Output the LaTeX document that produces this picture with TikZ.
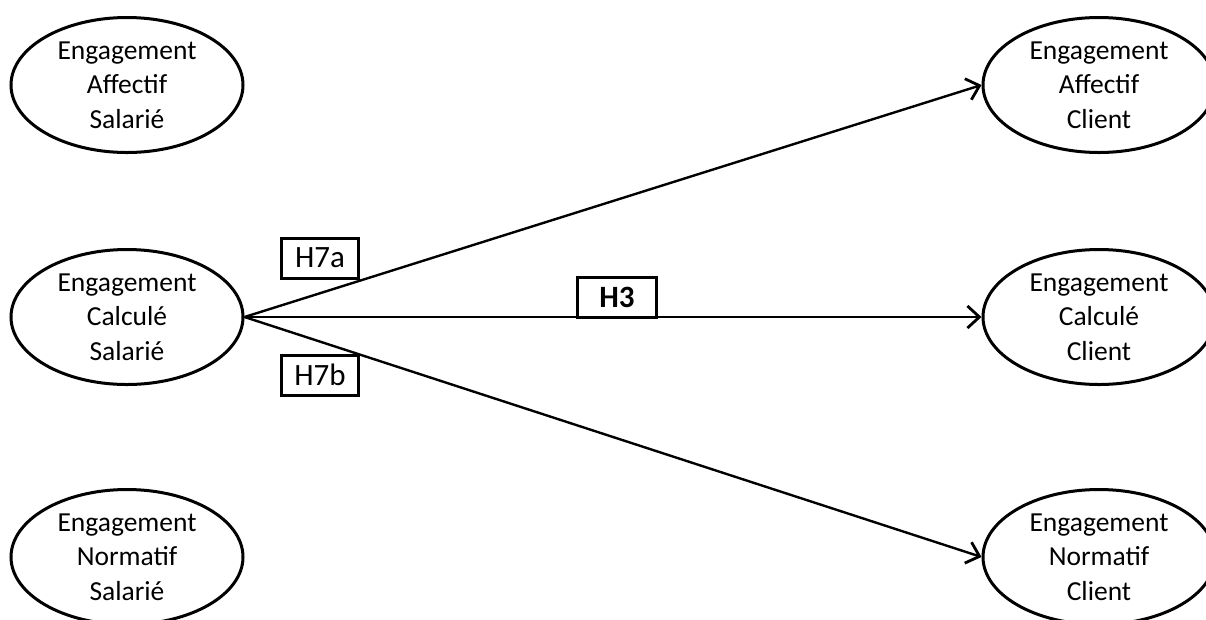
\documentclass[tikz,border=0pt]{standalone}
\usepackage{fontspec}
\setmainfont{Carlito}
\usetikzlibrary{shapes.geometric,arrows.meta}

\tikzset{
	latent/.style={draw, ellipse, line width=3pt, minimum width=232pt, minimum height=135pt,
		inner sep=0pt, align=center, font=\fontsize{27.5}{34.5}\selectfont},
	hyp/.style={draw, fill=white, line width=3pt, minimum width=77pt, minimum height=40pt,
		inner sep=0pt, font=\fontsize{31}{36}\selectfont},
	lien/.style={line width=2.4pt, -{Straight Barb[length=12pt,width=22pt,line width=2.8pt]}}
}

\begin{document}
\begin{tikzpicture}[x=1pt,y=-1pt]
	% Rahmen des Bildes
	\useasboundingbox (0,0) rectangle (1206,619);
	\clip (0,0) rectangle (1206,619);
	
	% Ellipsen links (Salarié) und rechts (Client)
	\foreach \n/\y/\t in {a/85/Affectif, c/317/Calculé, n/557/Normatif} {
		\node[latent] (\n-sal) at (127,\y) {Engagement\\ \t\\ Salarié};
		\node[latent] (\n-cli) at (1099,\y) {Engagement\\ \t\\ Client};
	}
	
	% Pfeile vom Engagement Calculé Salarié
	\draw[lien] (c-sal.east) -- (a-cli.west);
	\draw[lien] (c-sal.east) -- (c-cli.west);
	\draw[lien] (c-sal.east) -- (n-cli.west);
	
	% Hypothesen
	\node[hyp] (h7a) at (320,258) {H7a};
	\node[hyp] (h7b) at (320,375) {H7b};
	\node[hyp, font=\fontsize{31}{36}\selectfont\bfseries, minimum width=79pt] (h3) at (617,297) {H3};
\end{tikzpicture}
\end{document}
